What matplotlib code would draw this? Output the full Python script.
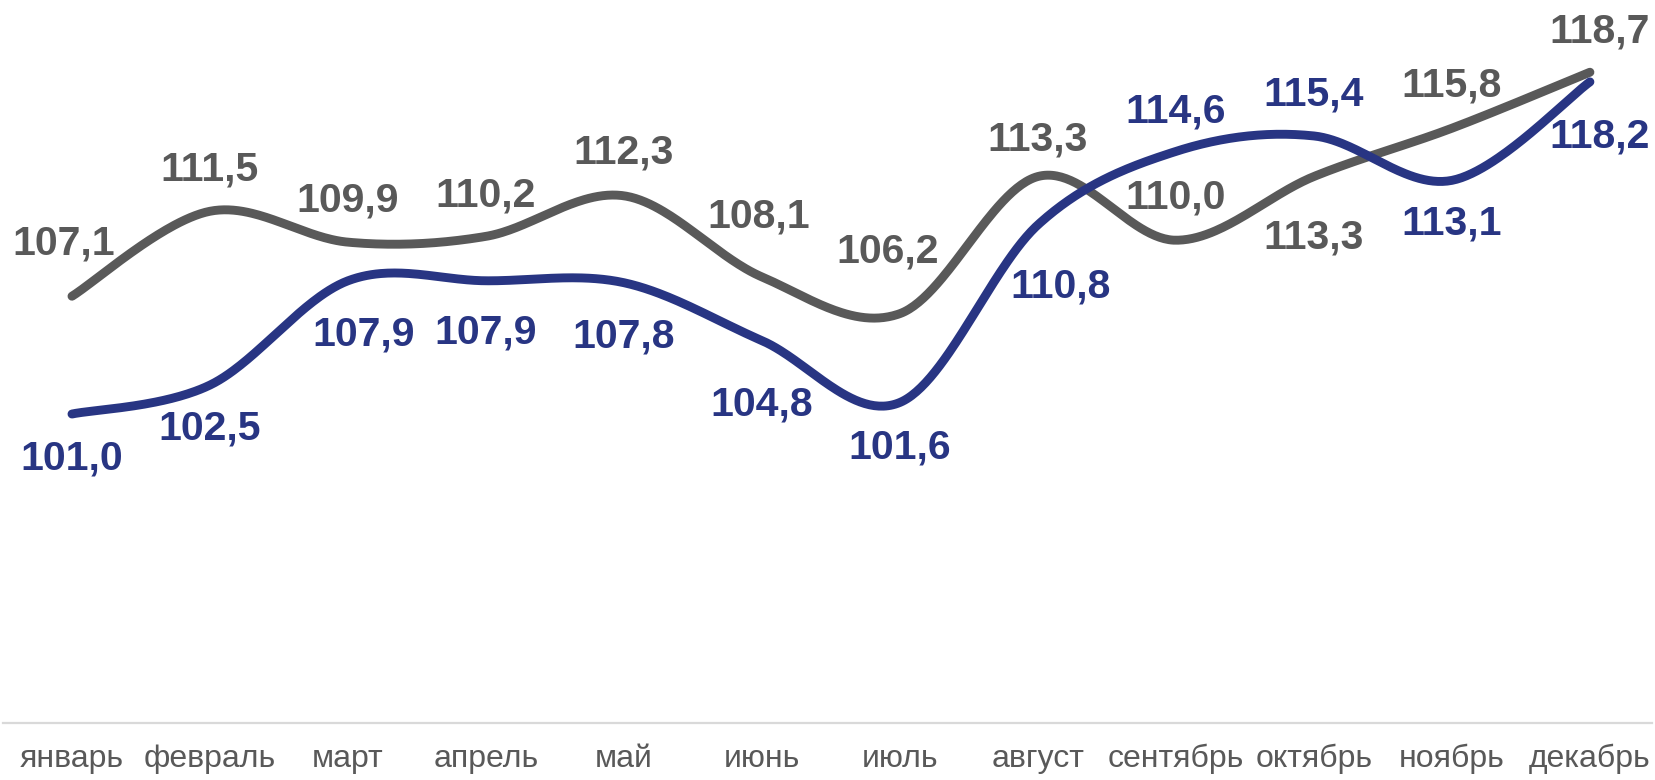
import numpy as np
import matplotlib
matplotlib.use("Agg")
import matplotlib.pyplot as plt

months = ["январь", "февраль", "март", "апрель", "май", "июнь",
          "июль", "август", "сентябрь", "октябрь", "ноябрь", "декабрь"]
gray_values = [107.1, 111.5, 109.9, 110.2, 112.3, 108.1,
               106.2, 113.3, 110.0, 113.3, 115.8, 118.7]
navy_values = [101.0, 102.5, 107.9, 107.9, 107.8, 104.8,
               101.6, 110.8, 114.6, 115.4, 113.1, 118.2]

# label placement (reference pixels; negative dy = above point)
gray_dy = [-53, -42, -42, -41, -43, -60, -62, -37, -43, 61, -43, -41]
gray_dx = [-8, 0, 0, 0, 0, -3, -12, 0, 0, 0, 0, 10]
navy_dy = [44, 43, 54, 52, 54, 64, 45, 62, -40, -41, 43, 55]
navy_dx = [0, 0, 16, 0, 0, 0, 0, 23, 0, 0, 0, 10]

GRAY = "#595959"
NAVY = "#283583"
FONT = "Liberation Sans"


def smooth(xs, ys, n=60):
    pts = np.column_stack([xs, ys]).astype(float)
    P = np.vstack([pts[0], pts, pts[-1]])
    out = []
    t = np.linspace(0, 1, n)[:, None]
    for i in range(len(pts) - 1):
        p0, p1, p2, p3 = P[i], P[i + 1], P[i + 2], P[i + 3]
        c1 = p1 + (p2 - p0) / 6.0
        c2 = p2 - (p3 - p1) / 6.0
        seg = ((1 - t) ** 3) * p1 + 3 * ((1 - t) ** 2) * t * c1 \
            + 3 * (1 - t) * (t ** 2) * c2 + (t ** 3) * p2
        out.append(seg if i == 0 else seg[1:])
    return np.vstack(out)


fig = plt.figure(figsize=(16.55, 7.8), dpi=100)
ax = fig.add_axes([0.0018, 1 - 723 / 780, 0.9964, 723 / 780])
x = np.arange(len(months))

for vals, color, z in [(gray_values, GRAY, 2), (navy_values, NAVY, 3)]:
    curve = smooth(x, vals)
    ax.plot(curve[:, 0], curve[:, 1], color=color, lw=6.4,
            solid_capstyle="round", solid_joinstyle="round", zorder=z)

px2pt = 72 / 100
for vals, dys, dxs, color in [(gray_values, gray_dy, gray_dx, GRAY),
                              (navy_values, navy_dy, navy_dx, NAVY)]:
    for i, v in enumerate(vals):
        ax.annotate(f"{v:.1f}".replace(".", ","), (x[i], v),
                    xytext=(dxs[i] * px2pt, -dys[i] * px2pt),
                    textcoords="offset points", ha="center", va="center",
                    fontsize=29.5, fontweight="bold", color=color,
                    family=FONT, zorder=5)

ax.set_xlim(-0.5, 11.45)
ax.set_ylim(85, 122.44)
ax.set_xticks(x)
ax.set_xticklabels(months, fontsize=23, color=GRAY, family=FONT)
ax.tick_params(axis="x", length=0, pad=15)
ax.set_yticks([])
for s in ["top", "right", "left"]:
    ax.spines[s].set_visible(False)
ax.spines["bottom"].set_color("#d9d9d9")
ax.spines["bottom"].set_linewidth(1.6)
ax.patch.set_alpha(0)

fig.savefig("out.png", dpi=100)
